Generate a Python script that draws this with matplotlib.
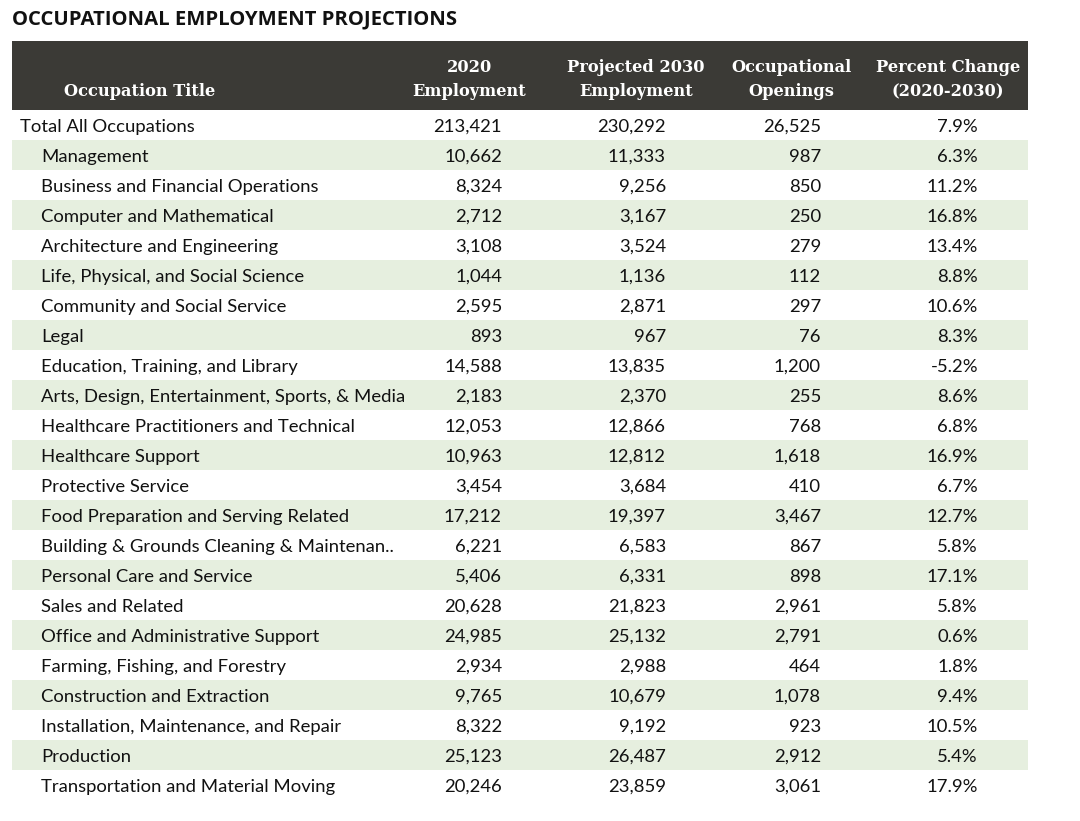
import matplotlib
matplotlib.use("Agg")
import matplotlib.pyplot as plt
from matplotlib.patches import Rectangle

title = "OCCUPATIONAL EMPLOYMENT PROJECTIONS"
headers = ["Occupation Title", "2020\nEmployment", "Projected 2030\nEmployment",
           "Occupational\nOpenings", "Percent Change\n(2020-2030)"]

occupations = [
    "Total All Occupations", "Management", "Business and Financial Operations",
    "Computer and Mathematical", "Architecture and Engineering",
    "Life, Physical, and Social Science", "Community and Social Service", "Legal",
    "Education, Training, and Library", "Arts, Design, Entertainment, Sports, & Media",
    "Healthcare Practitioners and Technical", "Healthcare Support", "Protective Service",
    "Food Preparation and Serving Related", "Building & Grounds Cleaning & Maintenan..",
    "Personal Care and Service", "Sales and Related", "Office and Administrative Support",
    "Farming, Fishing, and Forestry", "Construction and Extraction",
    "Installation, Maintenance, and Repair", "Production", "Transportation and Material Moving",
]
emp_2020 = [213421, 10662, 8324, 2712, 3108, 1044, 2595, 893, 14588, 2183, 12053, 10963,
            3454, 17212, 6221, 5406, 20628, 24985, 2934, 9765, 8322, 25123, 20246]
emp_2030 = [230292, 11333, 9256, 3167, 3524, 1136, 2871, 967, 13835, 2370, 12866, 12812,
            3684, 19397, 6583, 6331, 21823, 25132, 2988, 10679, 9192, 26487, 23859]
openings = [26525, 987, 850, 250, 279, 112, 297, 76, 1200, 255, 768, 1618,
            410, 3467, 867, 898, 2961, 2791, 464, 1078, 923, 2912, 3061]
pct_change = [7.9, 6.3, 11.2, 16.8, 13.4, 8.8, 10.6, 8.3, -5.2, 8.6, 6.8, 16.9,
              6.7, 12.7, 5.8, 17.1, 5.8, 0.6, 1.8, 9.4, 10.5, 5.4, 17.9]

W, H = 1080, 821
fig = plt.figure(figsize=(W / 100, H / 100), dpi=100)
ax = fig.add_axes([0, 0, 1, 1])
ax.set_xlim(0, W)
ax.set_ylim(H, 0)
ax.axis("off")

body_font = "Lato"
head_font = "DejaVu Serif"
text_col = "#111111"

# title
ax.text(12, 19, title, fontsize=14.6, fontweight="bold", family="Open Sans",
        ha="left", va="center", color="#111111")

# header band
left, right = 12, 1028
ax.add_patch(Rectangle((left, 41), right - left, 69, color="#3b3a36", lw=0))
head_x = [140, 469, 636, 791, 948]
for hx, h in zip(head_x, headers):
    lines = h.split("\n")
    ys = [92] if len(lines) == 1 else [68, 92]
    for y, s in zip(ys, lines):
        ax.text(hx, y, s, fontsize=11.7, fontweight="bold", family=head_font,
                ha="center", va="center", color="white")

# rows
row_h = 30
y0 = 125
num_right = [502, 666, 821, 978]
for i, occ in enumerate(occupations):
    yc = y0 + i * row_h
    if i % 2 == 1:
        ax.add_patch(Rectangle((left, yc - row_h / 2), right - left, row_h,
                               color="#e6efdf", lw=0))
    lx = 20 if i == 0 else 41
    ty = yc + 2
    ax.text(lx, ty, occ, fontsize=13.3, family=body_font, ha="left", va="center",
            color=text_col)
    vals = [f"{emp_2020[i]:,}", f"{emp_2030[i]:,}", f"{openings[i]:,}",
            f"{pct_change[i]:.1f}%"]
    for rx, v in zip(num_right, vals):
        ax.text(rx, ty, v, fontsize=13.3, family=body_font, ha="right", va="center",
                color=text_col)

fig.savefig("out.png", dpi=100)
